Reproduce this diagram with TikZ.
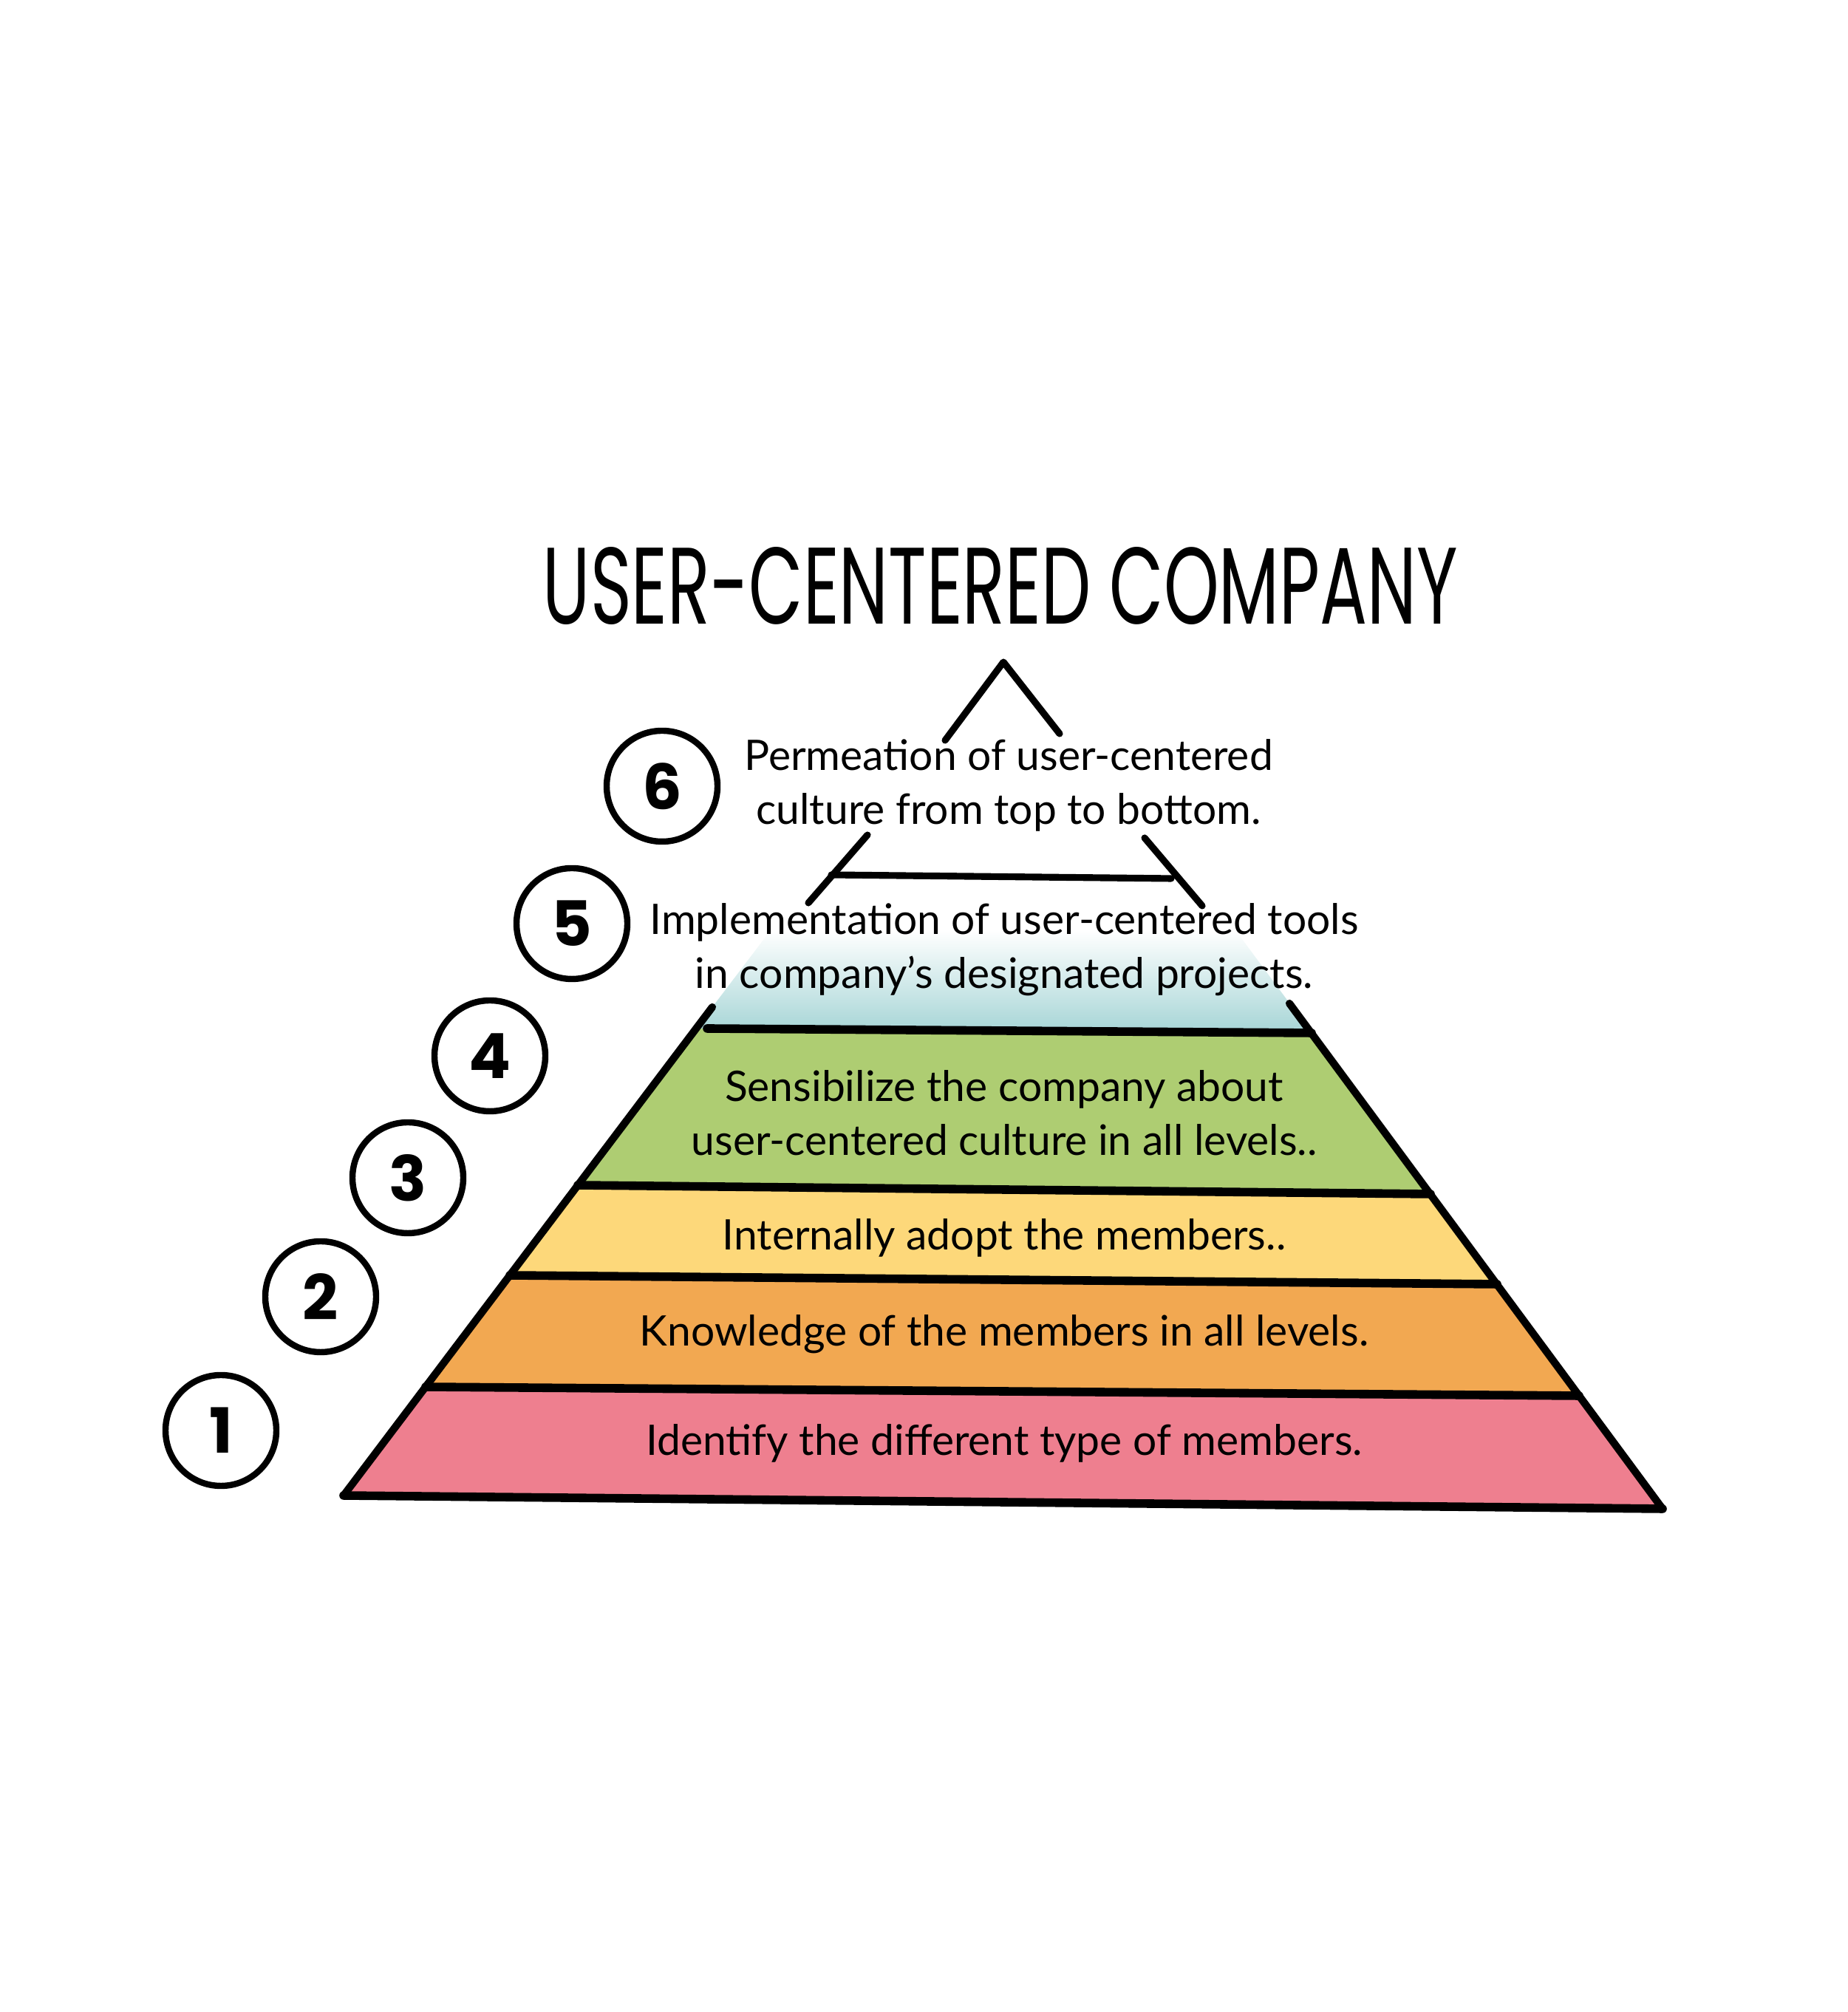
\documentclass[tikz,border=0pt]{standalone}
\usepackage{fontspec}
\setmainfont{Lato}
\newfontfamily\handfont{Poppins}
\usetikzlibrary{positioning,calc}
\definecolor{Pinky}{RGB}{238,127,143}
\definecolor{Orangy}{RGB}{242,168,81}
\definecolor{Yellowy}{RGB}{253,216,122}
\definecolor{Greeny}{RGB}{174,205,114}
\definecolor{Tealy}{RGB}{166,213,214}

\tikzset{
  marker/.style={line width=2.6pt, line cap=round, line join=round},
  thickmarker/.style={marker, line width=3.3pt},
  numcirc/.style={circle, draw, line width=2.4pt, minimum size=1.5cm, inner sep=0pt,
    font=\handfont\bfseries\fontsize{24pt}{24pt}\selectfont},
  leveltext/.style={align=center, inner sep=0pt,
    font=\fontsize{16.2pt}{20.7pt}\selectfont}
}

\begin{document}
\begin{tikzpicture}
    \fill[white] (0,0) rectangle (25,27.23);
    \useasboundingbox (0,0) rectangle (25,27.23);

    % pyramid corners and level points
    \coordinate (bl) at (4.65,6.99);
    \coordinate (br) at (22.50,6.81);
    \coordinate (tl) at (9.64,13.60);
    \coordinate (tr) at (17.45,13.65);
    \coordinate (l1) at (5.76,8.46);
    \coordinate (r1) at (21.37,8.34);
    \coordinate (l2) at (6.90,9.97);
    \coordinate (r2) at (20.26,9.85);
    \coordinate (l3) at (7.82,11.19);
    \coordinate (r3) at (19.36,11.07);
    \coordinate (l4) at (9.42,13.31);
    \coordinate (r4) at (17.75,13.25);
    \coordinate (l5) at (10.43,14.64);
    \coordinate (r5) at (16.72,14.64);

    % colour bands
    \fill[Pinky] (bl) -- (br) -- (r1) -- (l1) -- cycle;
    \fill[Orangy] (l1) -- (r1) -- (r2) -- (l2) -- cycle;
    \fill[Yellowy] (l2) -- (r2) -- (r3) -- (l3) -- cycle;
    \fill[Greeny] (l3) -- (r3) -- (r4) -- (l4) -- cycle;
    \shade[top color=white, bottom color=Tealy] (l4) -- (r4) -- (r5) -- (l5) -- cycle;

    % outline and level lines
    \draw[marker, line width=2.9pt] (tl) -- (bl);
    \draw[thickmarker] (bl) -- (br);
    \draw[marker, line width=2.9pt] (br) -- (tr);
    \draw[thickmarker] (l1) -- (r1);
    \draw[thickmarker] (l2) -- (r2);
    \draw[thickmarker] (l3) -- (r3);
    \draw[thickmarker] ($(l4)+(0.15,0)$) -- (r4);

    % top of the pyramid
    \coordinate (apex) at (13.58,18.27);
    \coordinate (apexl) at (12.79,17.21);
    \coordinate (apexr) at (14.34,17.30);
    \coordinate (midl) at (11.74,15.93);
    \coordinate (midlb) at (10.94,15.01);
    \coordinate (midr) at (15.49,15.89);
    \coordinate (midrb) at (16.27,14.97);
    \draw[marker] (apexl) -- (apex) -- (apexr);
    \draw[marker] (midl) -- (midlb);
    \draw[marker] (midr) -- (midrb);
    \draw[marker] (11.25,15.39) -- (15.85,15.34);

    % title
    \node (title) at (13.54,19.30)
        {\resizebox{12.38cm}{1.04cm}{\handfont USER-CENTERED COMPANY}};

    % level texts
    \node[leveltext] (t6) at (13.65,16.60) {Permeation of user-centered\\culture from top to bottom.};
    \node[leveltext] (t5) at (13.59,14.38) {Implementation of user-centered tools\\in company’s designated projects.};
    \node[leveltext] (t4) at (13.59,12.17) {Sensibilize the company about\\user-centered culture in all levels..};
    \node[leveltext] (t3) at (13.59,10.48) {Internally adopt the members..};
    \node[leveltext] (t2) at (13.59,9.17) {Knowledge of the members in all levels.};
    \node[leveltext] (t1) at (13.59,7.70) {Identify the different type of members.};

    % numbered circles
    \foreach \n/\x/\y in {1/2.99/7.87, 2/4.34/9.68, 3/5.52/11.29,
                          4/6.63/12.94, 5/7.74/14.73, 6/8.96/16.59}
        \node[numcirc] (c\n) at (\x,\y) {\n};
\end{tikzpicture}
\end{document}
